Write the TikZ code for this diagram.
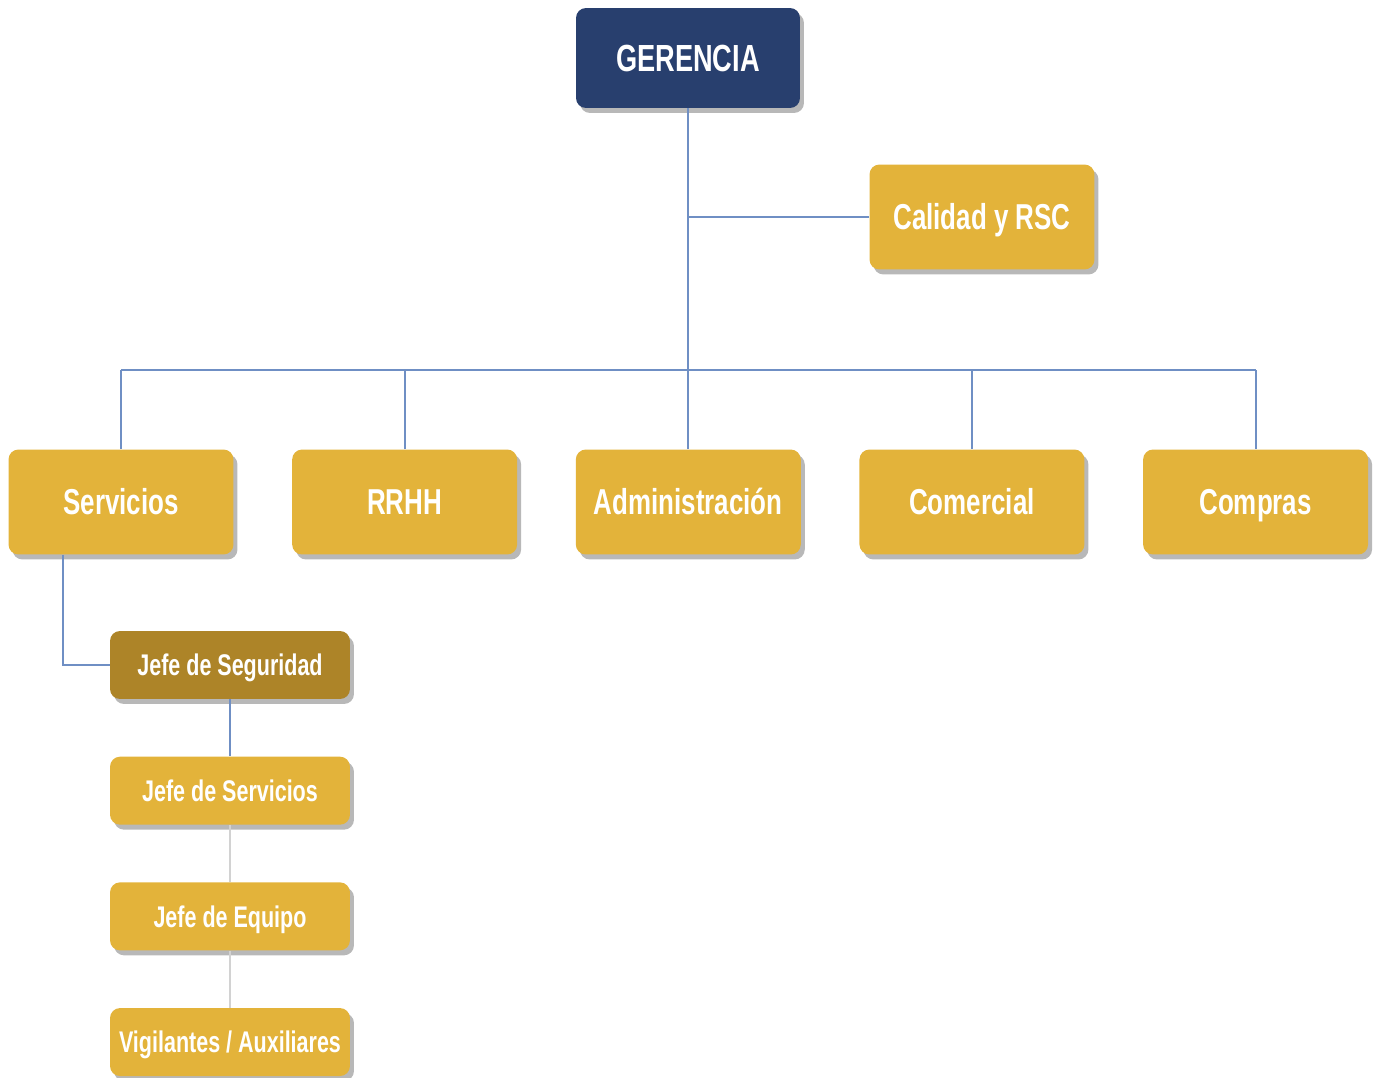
\documentclass[tikz,border=0pt]{standalone}
\usepackage{fontspec}
\setmainfont[FakeStretch=0.72]{Liberation Sans}
\usepackage{tikz}
\usetikzlibrary{positioning, shadows}

\definecolor{navy}{HTML}{283F6E}
\definecolor{gold}{HTML}{E3B33A}
\definecolor{darkgold}{HTML}{AD8428}
\definecolor{linkblue}{HTML}{6F8FC4}
\definecolor{linkgray}{HTML}{D2D2D2}

\begin{document}
\begin{tikzpicture}[x=0.02cm, y=-0.02cm, font=\bfseries,
		box/.style={rounded corners=0.2cm, text=white, align=center, text depth=0pt,
			drop shadow={shadow xshift=0.08cm, shadow yshift=-0.1cm, fill=black!28, opacity=1}},
		topbox/.style={box, fill=navy, minimum width=4.48cm, minimum height=2cm, text height=15.4pt, font=\bfseries\fontsize{21.5}{24}\selectfont},
		unitbox/.style={box, fill=gold, minimum width=4.5cm, minimum height=2.1cm, text height=14.7pt, font=\bfseries\fontsize{20.5}{24}\selectfont},
		smallbox/.style={box, fill=gold, minimum width=4.8cm, minimum height=1.36cm, text height=12.2pt, font=\bfseries\fontsize{17}{20}\selectfont},
		link/.style={linkblue, line width=1.1pt},
		thinlink/.style={linkgray, line width=1.1pt}]
		
		\useasboundingbox (0,0) rectangle (1373,1078);
		
		% Nodes
		\node[topbox] (G) at (688,58) {GERENCIA};
		\node[unitbox] (Q) at (982,217) {Calidad y RSC};
		
		\node[unitbox] (S) at (121,502) {Servicios};
		\node[unitbox, right=1.16cm of S] (R) {RRHH};
		\node[unitbox, right=1.16cm of R] (Ad) {Administración};
		\node[unitbox, right=1.16cm of Ad] (Co) {Comercial};
		\node[unitbox, right=1.16cm of Co] (Cp) {Compras};
		
		\node[smallbox, fill=darkgold] (JS) at (230,665) {Jefe de Seguridad};
		\node[smallbox, below=1.14cm of JS] (JV) {Jefe de Servicios};
		\node[smallbox, below=1.14cm of JV] (JE) {Jefe de Equipo};
		\node[smallbox, below=1.14cm of JE] (VA) {Vigilantes / Auxiliares};
		
		\coordinate (bus) at (688,370);
		
		% Lines
		\draw[link] (G.south) -- (bus);
		\draw[link] (Q.west) -- (Q.west -| G.south);
		\draw[link] (bus -| S.north) -- (bus -| Cp.north);
		\foreach \n in {S, R, Ad, Co, Cp}
			\draw[link] (\n.north) -- (\n.north |- bus);
		\draw[link] ([xshift=-1.16cm]S.south) |- (JS.west);
		\draw[link] (JS.south) -- (JV.north);
		\draw[thinlink] (JV.south) -- (JE.north);
		\draw[thinlink] (JE.south) -- (VA.north);
		
\end{tikzpicture}
\end{document}
